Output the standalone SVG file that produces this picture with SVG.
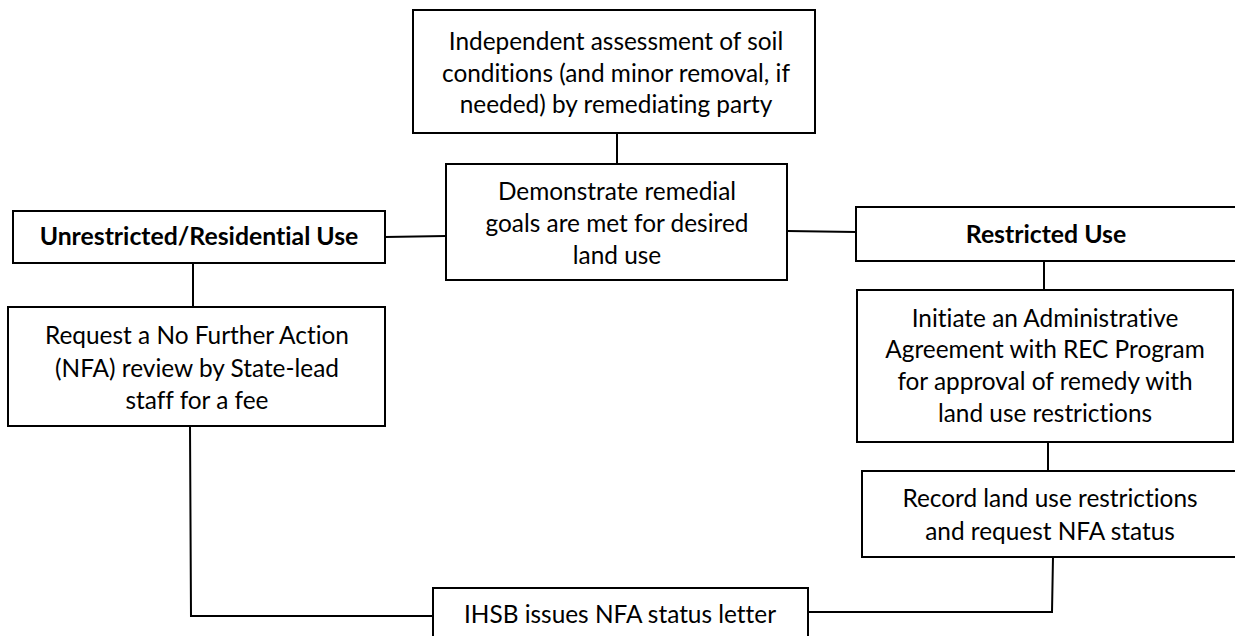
<svg xmlns="http://www.w3.org/2000/svg" width="1235" height="636" viewBox="0 0 1235 636">
<style>
  .box { fill: #fff; stroke: #000; stroke-width: 2; }
  .conn { fill: none; stroke: #000; stroke-width: 2; }
  .t { font-family: Lato, "Open Sans", sans-serif; font-size: 24.4px; fill: #000; text-anchor: middle; font-variant-ligatures: none; font-feature-settings: "liga" 0, "dlig" 0; }
  .b { font-weight: bold; font-size: 24.8px; }
</style>
<rect width="1235" height="636" fill="#fff"/>
<g id="connectors">
  <line class="conn" x1="617" y1="133" x2="617" y2="164"/>
  <line class="conn" x1="385" y1="237" x2="446" y2="236"/>
  <line class="conn" x1="787" y1="231" x2="856" y2="232"/>
  <line class="conn" x1="193" y1="263" x2="193" y2="307"/>
  <line class="conn" x1="1044" y1="261" x2="1044" y2="290"/>
  <line class="conn" x1="1048" y1="442" x2="1048" y2="471"/>
  <polyline class="conn" points="190,426 191,616 433,616"/>
  <polyline class="conn" points="1053,557 1052,612 808,612"/>
</g>
<g id="n-assess">
  <rect class="box" x="413" y="10" width="402" height="123"/>
  <text class="t" x="616" y="50">Independent assessment of soil</text>
  <text class="t" x="616" y="81.5">conditions (and minor removal, if</text>
  <text class="t" x="616" y="113">needed) by remediating party</text>
</g>
<g id="n-demonstrate">
  <rect class="box" x="446" y="164" width="341" height="116"/>
  <text class="t" x="617" y="200">Demonstrate remedial</text>
  <text class="t" x="617" y="232">goals are met for desired</text>
  <text class="t" x="617" y="264">land use</text>
</g>
<g id="n-unrestricted">
  <rect class="box" x="13" y="211" width="372" height="52"/>
  <text class="t b" x="199" y="245">Unrestricted/Residential Use</text>
</g>
<g id="n-restricted">
  <rect class="box" x="856" y="207" width="400" height="54"/>
  <text class="t b" x="1046" y="243">Restricted Use</text>
</g>
<g id="n-request">
  <rect class="box" x="8" y="307" width="377" height="119"/>
  <text class="t" x="197" y="344">Request a No Further Action</text>
  <text class="t" x="197" y="376.5">(NFA) review by State-lead</text>
  <text class="t" x="197" y="409">staff for a fee</text>
</g>
<g id="n-initiate">
  <rect class="box" x="857" y="290" width="376" height="152"/>
  <text class="t" x="1045" y="327">Initiate an Administrative</text>
  <text class="t" x="1045" y="358">Agreement with REC Program</text>
  <text class="t" x="1045" y="390">for approval of remedy with</text>
  <text class="t" x="1045" y="422">land use restrictions</text>
</g>
<g id="n-record">
  <rect class="box" x="862" y="471" width="400" height="86"/>
  <text class="t" x="1050" y="507">Record land use restrictions</text>
  <text class="t" x="1050" y="540">and request NFA status</text>
</g>
<g id="n-ihsb">
  <rect class="box" x="433" y="588" width="375" height="80"/>
  <text class="t" x="620" y="623">IHSB issues NFA status letter</text>
</g>
</svg>
